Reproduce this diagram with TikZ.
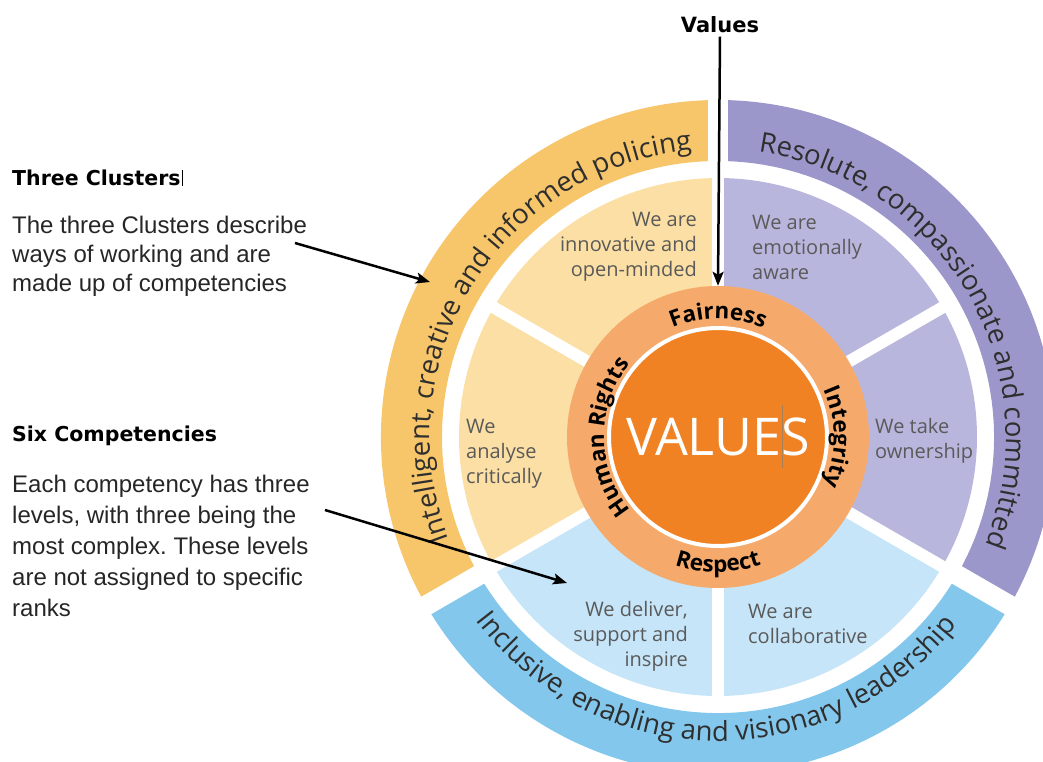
\documentclass[tikz,border=0pt]{standalone}
\usepackage{fontspec}
\setmainfont{Liberation Sans}
\newfontfamily\wheelfont{Open Sans}
\newfontfamily\headfont{DejaVu Sans}
\usetikzlibrary{decorations.text,arrows.meta}
\frenchspacing

\definecolor{clusterY}{HTML}{F8C66A}
\definecolor{compY}{HTML}{FCDFA4}
\definecolor{clusterP}{HTML}{9C97CA}
\definecolor{compP}{HTML}{B9B6DE}
\definecolor{clusterB}{HTML}{84C7EC}
\definecolor{compB}{HTML}{C6E5F8}
\definecolor{valring}{HTML}{F5AA6C}
\definecolor{valcore}{HTML}{F08223}
\definecolor{comptext}{HTML}{5A5A5A}
\definecolor{bandtext}{HTML}{2E2E2E}

\newcommand\bandfont{\color{bandtext}\wheelfont\fontsize{27.5}{27.5}\selectfont}
\newcommand\ringfont{\color{black}\wheelfont\bfseries\fontsize{22.5}{22.5}\selectfont}

\tikzset{
  comp/.style={text=comptext,font=\wheelfont\fontsize{20}{25}\selectfont,inner sep=0},
  note/.style={text=black!85,font=\fontsize{24}{29}\selectfont,align=left,inner sep=0,anchor=west},
  notehead/.style={font=\headfont\bfseries\fontsize{20.5}{20.5}\selectfont,inner sep=0,anchor=west},
  pointer/.style={-{Stealth[length=14pt,width=11pt,inset=3pt]},line width=2.5pt},
  arctext/.style={decorate,decoration={text along path,text align=center,text={#1}}}
}

\begin{document}
\begin{tikzpicture}[x=1pt,y=1pt]
\useasboundingbox (-718,437) rectangle (325,-324);
\clip (-718,437) rectangle (325,-324);

% six competencies
\foreach \a/\c in {-30/compP,30/compP,90/compY,150/compY,210/compB,270/compB}
  \fill[\c] (0,0) -- (\a:259) arc[start angle=\a,end angle=\a+60,radius=259] -- cycle;
\foreach \a in {30,90,...,330}
  \draw[white,line width=12] (0,0) -- (\a:262);

% three clusters
\foreach \a/\c in {90/clusterY,210/clusterB,330/clusterP}
  \fill[\c] (\a:276) arc[start angle=\a,end angle=\a+120,radius=276]
    -- ({\a+120}:337) arc[start angle=\a+120,end angle=\a,radius=337] -- cycle;
\foreach \a in {90,210,330}
  \draw[white,line width=20] (\a:265) -- (\a:350);

\path[arctext={|\bandfont|Intelligent, creative and informed policing}]
  (235:288) arc[start angle=235,end angle=61,radius=288];
\path[arctext={|\bandfont|Resolute, compassionate and committed}]
  (115:288) arc[start angle=115,end angle=-55,radius=288];
\path[arctext={|\bandfont|Inclusive, enabling and visionary leadership}]
  (185:304) arc[start angle=185,end angle=354,radius=304];

% values
\node[circle,fill=valring,minimum size=302pt,inner sep=0] (ring) at (0,0) {};
\node[circle,draw=white,line width=4pt,fill=valcore,minimum size=218pt,inner sep=0] (core) at (0,0) {};
\node[white,font=\wheelfont\fontsize{52}{52}\selectfont] (coretext) at (0,0) {VALUES};
\draw[brown!60!gray,line width=1pt] (64,32) -- (64,-31);

\path[arctext={|\ringfont|Fairness}] (130:118) arc[start angle=130,end angle=50,radius=118];
\path[arctext={|\ringfont|Integrity}] (50:116) arc[start angle=50,end angle=-50,radius=116];
\path[arctext={|\ringfont|Human Rights}] (250:114) arc[start angle=250,end angle=110,radius=114];
\path[arctext={|\ringfont|Respect}] (230:135) arc[start angle=230,end angle=310,radius=135];

\node[comp,anchor=east,align=right] (innov) at (-21,190) {We are\\innovative and\\open-minded};
\node[comp,anchor=west,align=left] (emot) at (34,190) {We are\\emotionally\\aware};
\node[comp,anchor=west,align=left] (analyse) at (-252,-17) {We\\analyse\\critically};
\node[comp,anchor=west,align=left] (owner) at (157,-4) {We take\\ownership};
\node[comp,anchor=east,align=right] (deliver) at (-30,-199) {We deliver,\\support and\\inspire};
\node[comp,anchor=west,align=left] (collab) at (30,-187) {We are\\collaborative};

% notes
\node[notehead] (clusterhead) at (-706,259) {Three Clusters};
\draw[line width=1pt] ([xshift=2pt]clusterhead.north east) -- ([xshift=2pt]clusterhead.south east);
\node[note] (clusternote) at (-706,181) {The three Clusters describe\\ways of working and are\\made up of competencies};
\node[notehead] (comphead) at (-706,1) {Six Competencies};
\node[note,font=\fontsize{24}{31}\selectfont] (compnote) at (-706,-109)
  {Each competency has three\\levels, with three being the\\most complex. These levels\\are not assigned to specific\\ranks};
\node[font=\headfont\bfseries\fontsize{21}{21}\selectfont] (valueslabel) at (2,412) {Values};

\coordinate (clusterfrom) at (-423,194);
\coordinate (clusterto) at (-288,155);
\coordinate (compfrom) at (-393,-73);
\coordinate (compto) at (-151,-146);
\draw[pointer] (clusterfrom) -- (clusterto);
\draw[pointer] (compfrom) -- (compto);
\draw[pointer] (valueslabel.south) -- (ring.north);
\end{tikzpicture}
\end{document}
